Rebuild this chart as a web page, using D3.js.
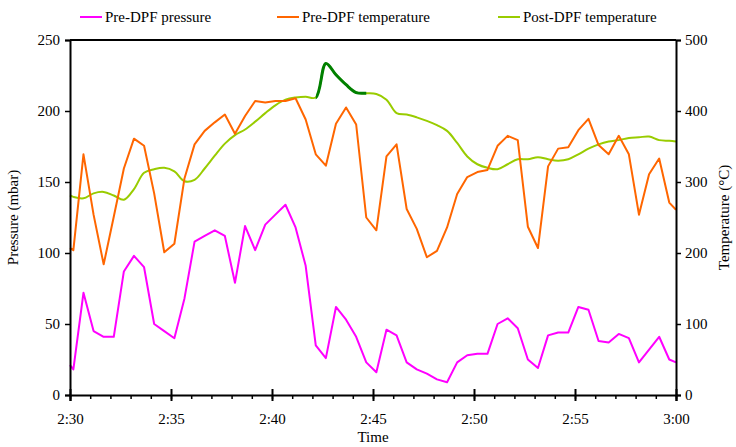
<!DOCTYPE html>
<html>
<head>
<meta charset="utf-8">
<script src="https://cdn.jsdelivr.net/npm/d3@7"></script>
<style>
  body { margin: 0; background: #fff; }
  svg text { font-family: "Liberation Serif", "Times New Roman", "DejaVu Serif", serif !important; fill: #000; }
</style>
</head>
<body>
<svg></svg>
<script>
// sample times (2:30 to 3:00)
const times = [
  "2:30:00", "2:30:10", "2:30:40", "2:31:10", "2:31:40", "2:32:10", "2:32:40", "2:33:10", "2:33:40",
  "2:34:10", "2:34:40", "2:35:10", "2:35:40", "2:36:10", "2:36:40", "2:37:10", "2:37:40",
  "2:38:10", "2:38:40", "2:39:10", "2:39:40", "2:40:10", "2:40:40", "2:41:10", "2:41:40",
  "2:42:10", "2:42:40", "2:43:10", "2:43:40", "2:44:10", "2:44:40", "2:45:10", "2:45:40",
  "2:46:10", "2:46:40", "2:47:10", "2:47:40", "2:48:10", "2:48:40", "2:49:10", "2:49:40",
  "2:50:10", "2:50:40", "2:51:10", "2:51:40", "2:52:10", "2:52:40", "2:53:10", "2:53:40",
  "2:54:10", "2:54:40", "2:55:10", "2:55:40", "2:56:10", "2:56:40", "2:57:10", "2:57:40",
  "2:58:10", "2:58:40", "2:59:10", "2:59:40", "3:00:00"
];

// Pre-DPF pressure (mbar)
const preDpfPressure = [
  21, 18, 72, 45, 41, 41, 87, 98, 90, 50, 45, 40, 68, 108, 112, 116, 112,
  79, 119, 102, 120, 127, 134, 118, 91, 35, 26, 62, 53, 41, 23, 16, 46,
  42, 23, 18, 15, 11, 9, 23, 28, 29, 29, 50, 54, 47, 25, 19, 42,
  44, 44, 62, 60, 38, 37, 43, 40, 23, 32, 41, 25, 23
];

// Pre-DPF temperature (°C)
const preDpfTemp = [
  207, 204, 339, 254, 184, 251, 319, 361, 351, 284, 201, 213, 305, 353, 372, 384, 395,
  368, 393, 414, 412, 414, 414, 418, 388, 339, 323, 382, 405, 381, 250, 232, 336,
  353, 262, 234, 194, 203, 236, 283, 307, 314, 317, 351, 365, 359, 237, 207, 322,
  347, 349, 373, 389, 352, 339, 365, 339, 254, 311, 333, 271, 261
];

// Post-DPF temperature (°C)
const postDpfTemp = [
  281, 279, 277, 284, 286, 281, 275, 290, 313, 318, 320, 315, 301, 303, 319, 337, 354,
  366, 374, 385, 397, 408, 416, 419, 420, 419, 467, 451, 437, 426, 425, 424, 416,
  397, 395, 391, 386, 380, 372, 355, 336, 325, 320, 318, 325, 332, 332, 335, 332,
  330, 332, 339, 347, 353, 357, 359, 362, 363, 364, 359, 358, 357
];

// highlighted stretch of the post-DPF curve
const highlightRange = ["2:42:10", "2:44:40"];

const xTicks = ["2:30", "2:35", "2:40", "2:45", "2:50", "2:55", "3:00"];
const leftTicks = [0, 50, 100, 150, 200, 250];
const rightTicks = [0, 100, 200, 300, 400, 500];

const seriesNames = ["Pre-DPF pressure", "Pre-DPF temperature", "Post-DPF temperature"];
const seriesColors = ["#ff00ff", "#ff6600", "#99cc00"];
const highlightColor = "#008000";

const width = 736;
const height = 447;
const margin = { left: 70, right: 60, top: 40, bottom: 52 };
const graphWidth = width - margin.left - margin.right;
const graphHeight = height - margin.top - margin.bottom;
const fontFamily = "'Liberation Serif', 'Times New Roman', serif";
const fontSize = "15px";

const parseTime = d3.timeParse("%H:%M:%S");
const parseTick = d3.timeParse("%H:%M");
const tickDates = xTicks.map(parseTick);

const data = times.map((t, i) => ({
  time: parseTime(t),
  pressure: preDpfPressure[i],
  preTemp: preDpfTemp[i],
  postTemp: postDpfTemp[i],
}));

const svg = d3.select("svg")
  .attr("width", width)
  .attr("height", height)
  .attr("font-family", fontFamily);

const xScale = d3.scaleTime()
  .domain([tickDates[0], tickDates[tickDates.length - 1]])
  .range([0, graphWidth]);
const yLeft = d3.scaleLinear().domain([0, 250]).range([graphHeight, 0]);
const yRight = d3.scaleLinear().domain([0, 500]).range([graphHeight, 0]);

const g = svg.append("g").attr("transform", `translate(${margin.left}, ${margin.top})`);

// top border of plot area
g.append("line")
  .attr("x1", 0).attr("x2", graphWidth)
  .attr("y1", 0).attr("y2", 0)
  .attr("stroke", "#000").attr("stroke-width", 2);

// lines
const pressureLine = d3.line()
  .x((d) => xScale(d.time))
  .y((d) => yLeft(d.pressure));
const preTempLine = d3.line()
  .x((d) => xScale(d.time))
  .y((d) => yRight(d.preTemp));
const postTempLine = d3.line()
  .x((d) => xScale(d.time))
  .y((d) => yRight(d.postTemp))
  .curve(d3.curveCatmullRom.alpha(0.5));

g.append("path")
  .attr("d", postTempLine(data))
  .attr("fill", "none")
  .attr("stroke", seriesColors[2])
  .attr("stroke-width", 2);

// highlighted part drawn on top, clipped to its time span
const hx0 = xScale(parseTime(highlightRange[0]));
const hx1 = xScale(parseTime(highlightRange[1]));
svg.append("defs").append("clipPath").attr("id", "hl")
  .append("rect")
  .attr("x", hx0).attr("y", -10)
  .attr("width", hx1 - hx0).attr("height", graphHeight + 20);
g.append("path")
  .attr("d", postTempLine(data))
  .attr("clip-path", "url(#hl)")
  .attr("fill", "none")
  .attr("stroke", highlightColor)
  .attr("stroke-width", 3);

g.append("path")
  .attr("d", preTempLine(data))
  .attr("fill", "none")
  .attr("stroke", seriesColors[1])
  .attr("stroke-width", 2)
  .attr("stroke-linejoin", "round");

g.append("path")
  .attr("d", pressureLine(data))
  .attr("fill", "none")
  .attr("stroke", seriesColors[0])
  .attr("stroke-width", 2)
  .attr("stroke-linejoin", "round");

// axes
const styleText = (sel) => sel.attr("font-family", fontFamily).style("font-size", fontSize);

const yLG = g.append("g").call(d3.axisLeft(yLeft).tickValues(leftTicks).tickSize(5).tickPadding(5));
yLG.attr("font-family", fontFamily);
yLG.select(".domain").attr("stroke-width", 2);
yLG.selectAll(".tick line").attr("stroke-width", 1.5);
yLG.selectAll("text").call(styleText);

const yRG = g.append("g")
  .attr("transform", `translate(${graphWidth}, 0)`)
  .call(d3.axisRight(yRight).tickValues(rightTicks).tickSize(5).tickPadding(4));
yRG.attr("font-family", fontFamily);
yRG.select(".domain").attr("stroke-width", 2);
yRG.selectAll(".tick line").attr("stroke-width", 1.5);
yRG.selectAll("text").call(styleText);

// x axis: minor ticks every minute, major every 5 minutes
const xG = g.append("g").attr("transform", `translate(0, ${graphHeight})`);
xG.append("g")
  .call(d3.axisBottom(xScale).ticks(d3.timeMinute.every(1)).tickSize(4).tickFormat(""))
  .call((a) => a.select(".domain").remove())
  .selectAll(".tick line").attr("stroke-width", 1.5);
const xMajor = xG.append("g")
  .call(d3.axisBottom(xScale).tickValues(tickDates).tickSize(6).tickPadding(12)
    .tickFormat((d, i) => xTicks[i]));
xMajor.attr("font-family", fontFamily);
xMajor.select(".domain").attr("stroke-width", 2);
xMajor.selectAll(".tick line").attr("y1", -6).attr("stroke-width", 2);
xMajor.selectAll("text").call(styleText);

// axis titles
g.append("text")
  .attr("x", graphWidth / 2)
  .attr("y", graphHeight + 47)
  .attr("text-anchor", "middle")
  .call(styleText)
  .text("Time");

g.append("text")
  .attr("transform", "rotate(-90)")
  .attr("x", -graphHeight / 2)
  .attr("y", -52)
  .attr("text-anchor", "middle")
  .call(styleText)
  .text("Pressure (mbar)");

g.append("text")
  .attr("transform", "rotate(-90)")
  .attr("x", -graphHeight / 2)
  .attr("y", graphWidth + 53)
  .attr("text-anchor", "middle")
  .call(styleText)
  .text("Temperature (°C)");

// legend
const legendX = [80, 277, 498];
const legend = svg.append("g");
seriesNames.forEach((name, i) => {
  legend.append("line")
    .attr("x1", legendX[i]).attr("x2", legendX[i] + 22)
    .attr("y1", 17).attr("y2", 17)
    .attr("stroke", seriesColors[i]).attr("stroke-width", 2);
  legend.append("text")
    .attr("x", legendX[i] + 25)
    .attr("y", 22)
    .call(styleText)
    .text(name);
});
</script>
</body>
</html>
